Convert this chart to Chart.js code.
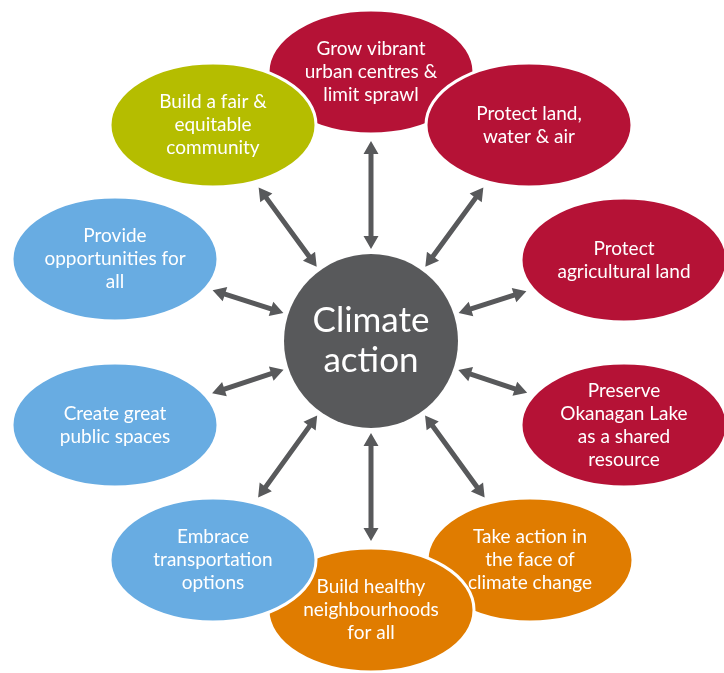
<!DOCTYPE html>
<html>
<head>
<meta charset="utf-8">
<script src="https://cdn.jsdelivr.net/npm/chart.js@4.4.1/dist/chart.umd.min.js"></script>
<style>
  body { margin: 0; background: #fff; }
  canvas { display: block; }
</style>
</head>
<body>
<canvas id="diagram" width="724" height="673"></canvas>
<script>
// the ten goals round the hub, drawn in this order (later ones sit on top)
const goalLines = [
  ["Grow vibrant", "urban centres &", "limit sprawl"],
  ["Protect land,", "water & air"],
  ["Protect", "agricultural land"],
  ["Preserve", "Okanagan Lake", "as a shared", "resource"],
  ["Take action in", "the face of", "climate change"],
  ["Build healthy", "neighbourhoods", "for all"],
  ["Embrace", "transportation", "options"],
  ["Create great", "public spaces"],
  ["Provide", "opportunities for", "all"],
  ["Build a fair &", "equitable", "community"]
];
const goalX = [371, 529, 624, 624, 530, 371, 213, 115, 115, 213];
const goalY = [72, 125, 260, 425, 560, 610, 560, 425, 259, 125];
const goalGroup = ["red", "red", "red", "red", "orange", "orange", "blue", "blue", "blue", "green"];

const hubLines = ["Climate", "action"];
const hubX = [371];
const hubY = [341];

const groupColors = {
  red: "rgb(181, 18, 54)",
  orange: "rgb(224, 124, 0)",
  blue: "rgb(104, 172, 226)",
  green: "rgb(181, 189, 0)"
};

const diagramPlugin = {
  id: "diagram",
  afterDatasetsDraw(chart, args, opts) {
    const ctx = chart.ctx;
    const xs = chart.scales.x, ys = chart.scales.y;
    const goals = chart.getDatasetMeta(0).data;
    const hub = chart.getDatasetMeta(1).data[0];
    const rx = Math.abs(xs.getPixelForValue(opts.ellipseW) - xs.getPixelForValue(0));
    const ry = Math.abs(ys.getPixelForValue(opts.ellipseH) - ys.getPixelForValue(0));
    const hr = Math.abs(xs.getPixelForValue(opts.hubR) - xs.getPixelForValue(0));

    // arrows
    ctx.save();
    ctx.fillStyle = opts.arrowColor;
    goals.forEach(p => {
      const dx = p.x - hub.x, dy = p.y - hub.y;
      const len = Math.hypot(dx, dy);
      const ux = dx / len, uy = dy / len;
      const t = 1 / Math.sqrt((ux / rx) ** 2 + (uy / ry) ** 2);
      const a = hr + opts.gapHub;
      const b = len - t - opts.gapGoal;
      drawArrow(ctx, hub.x + ux * a, hub.y + uy * a, hub.x + ux * b, hub.y + uy * b);
    });
    ctx.restore();

    // goal ellipses
    goals.forEach((p, i) => {
      ctx.save();
      ctx.beginPath();
      ctx.ellipse(p.x, p.y, rx, ry, 0, 0, Math.PI * 2);
      ctx.fillStyle = groupColors[goalGroup[i]];
      ctx.fill();
      ctx.lineWidth = 3;
      ctx.strokeStyle = "#fff";
      ctx.stroke();
      drawLines(ctx, goalLines[i], p.x, p.y, opts.goalFont, opts.goalLineH);
      ctx.restore();
    });

    // hub
    ctx.save();
    ctx.beginPath();
    ctx.arc(hub.x, hub.y, hr, 0, Math.PI * 2);
    ctx.fillStyle = opts.hubColor;
    ctx.fill();
    drawLines(ctx, hubLines, hub.x, hub.y, opts.hubFont, opts.hubLineH);
    ctx.restore();
  }
};

function drawLines(ctx, lines, cx, cy, font, lh) {
  ctx.fillStyle = "#fff";
  ctx.font = font;
  ctx.textAlign = "center";
  ctx.textBaseline = "middle";
  const top = cy - (lines.length - 1) * lh / 2;
  lines.forEach((s, k) => ctx.fillText(s, cx, top + k * lh));
}

function drawArrow(ctx, x1, y1, x2, y2) {
  const w = 2.5, hw = 7.5, hl = 13;
  const dx = x2 - x1, dy = y2 - y1;
  const L = Math.hypot(dx, dy);
  const ux = dx / L, uy = dy / L, nx = -uy, ny = ux;
  const pt = (s, o) => [x1 + ux * s + nx * o, y1 + uy * s + ny * o];
  const pts = [
    pt(0, 0), pt(hl, hw), pt(hl, w), pt(L - hl, w), pt(L - hl, hw),
    pt(L, 0), pt(L - hl, -hw), pt(L - hl, -w), pt(hl, -w), pt(hl, -hw)
  ];
  ctx.beginPath();
  pts.forEach((q, k) => k ? ctx.lineTo(q[0], q[1]) : ctx.moveTo(q[0], q[1]));
  ctx.closePath();
  ctx.fill();
}

new Chart("diagram", {
  type: "scatter",
  data: {
    datasets: [
      {
        label: "Goals",
        data: goalX.map((x, i) => ({ x: x, y: goalY[i] })),
        pointRadius: 0
      },
      {
        label: "Climate action",
        data: hubX.map((x, i) => ({ x: x, y: hubY[i] })),
        pointRadius: 0
      }
    ]
  },
  options: {
    responsive: false,
    animation: false,
    events: [],
    layout: { padding: 0 },
    scales: {
      x: { type: "linear", min: 0, max: 724, display: false },
      y: { type: "linear", min: 0, max: 673, reverse: true, display: false }
    },
    plugins: {
      legend: { display: false },
      tooltip: { enabled: false },
      diagram: {
        ellipseW: 103,
        ellipseH: 62,
        hubR: 87,
        gapHub: 5,
        gapGoal: 7,
        arrowColor: "rgb(88, 89, 91)",
        hubColor: "rgb(88, 89, 91)",
        goalFont: "19px Lato",
        goalLineH: 23,
        hubFont: "35px Lato",
        hubLineH: 40
      }
    }
  },
  plugins: [diagramPlugin]
});
</script>
</body>
</html>
